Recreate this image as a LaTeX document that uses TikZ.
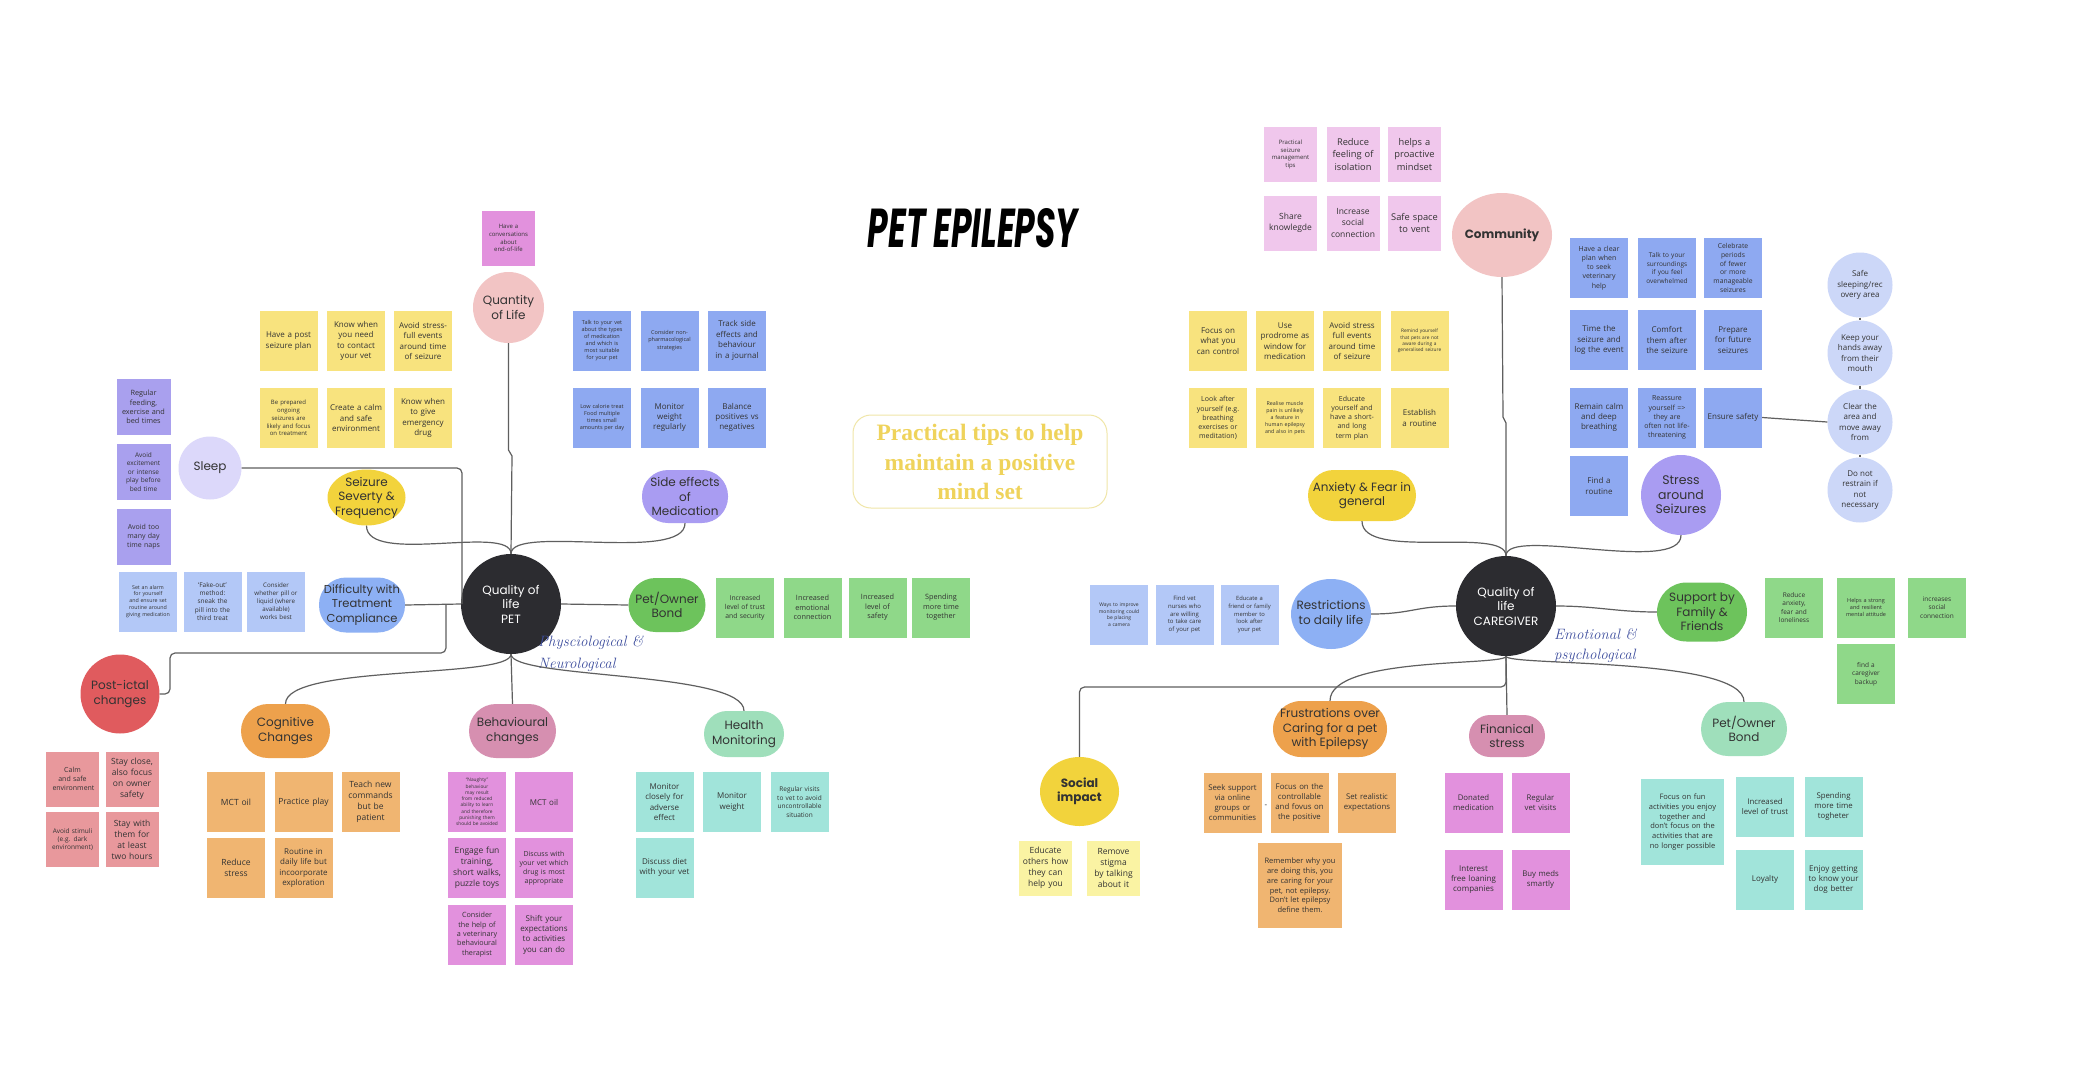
\documentclass[tikz,border=0pt]{standalone}
\usepackage{fontspec}
\usepackage{graphicx}
\usetikzlibrary{shapes.geometric}
\newfontfamily\notefont{Open Sans}
\newfontfamily\shapefont{Poppins}
\newfontfamily\tipfont{Liberation Serif}
\hyphenpenalty=10000
\definecolor{cYel}{HTML}{F8E37E}
\definecolor{cBlue}{HTML}{8EA9F1}
\definecolor{cLBlue}{HTML}{B3C8F7}
\definecolor{cPurp}{HTML}{A9A0EE}
\definecolor{cGreen}{HTML}{8FD889}
\definecolor{cPink}{HTML}{E8989C}
\definecolor{cOrange}{HTML}{F0B571}
\definecolor{cMag}{HTML}{E291DD}
\definecolor{cTeal}{HTML}{A1E4DA}
\definecolor{cComm}{HTML}{F0C7EC}
\definecolor{cLYel}{HTML}{FAF3A3}
\definecolor{kPink}{HTML}{F2C4C4}
\definecolor{kLav}{HTML}{DCD8FA}
\definecolor{kYel}{HTML}{F2D33C}
\definecolor{kPurp}{HTML}{A99CF2}
\definecolor{kBlue}{HTML}{8DB0F4}
\definecolor{kGreen}{HTML}{6DC35C}
\definecolor{kRed}{HTML}{E05B5E}
\definecolor{kOrange}{HTML}{EDA14C}
\definecolor{kMauve}{HTML}{D68FB0}
\definecolor{kMint}{HTML}{9FDFBB}
\definecolor{kLB}{HTML}{CCD7F8}
\definecolor{kDark}{HTML}{2C2C30}
\definecolor{lineC}{HTML}{5F5F5F}
\definecolor{tipC}{HTML}{EFD35B}
\definecolor{tipB}{HTML}{F0E6A8}
\definecolor{handC}{HTML}{3E4E9E}
\definecolor{txtC}{HTML}{333333}
\tikzset{
  nt/.style={rectangle, minimum width=58pt, minimum height=60pt, text width=52pt, align=center, inner sep=0pt, text=txtC},
  nts/.style={minimum width=53pt, minimum height=55pt, text width=49pt},
  ntm/.style={minimum width=54pt, minimum height=56pt, text width=49pt},
  fs/.style={font=\notefont\fontsize{#1}{\the\dimexpr #1pt*13/10\relax}\selectfont},
  cattxt/.style={align=center, inner sep=0pt, text=txtC, font=\shapefont\fontsize{12}{14.5}\selectfont},
  pill/.style={rectangle, rounded corners=#1, inner sep=0pt},
  circ/.style={circle, inner sep=0pt},
  ell/.style={ellipse, inner sep=0pt},
  conn/.style={draw=lineC, line width=1.2pt},
  hand/.style={font=\itshape\fontsize{15}{17}\selectfont, text=handC, inner sep=0pt},
  lcirc/.style={circle, fill=kLB, minimum size=65pt, inner sep=0pt, align=center, text=txtC, fs=8}
}
\newcommand\stick[6][]{\node[nt,#1,fill=#2,fs=#3] (#4) at (#5) {#6};}
\newcommand\catnode[5]{\node[#2] (#1) at (#3) {}; \node[cattxt,#4] (#1t) at (#1) {#5};}
\begin{document}
\begin{tikzpicture}[x=1pt,y=-1pt]
\fill[white] (0,0) rectangle (2093,1074);
\useasboundingbox (0,0) rectangle (2093,1074);

% title and tips
\node (title) at (973,228) {\resizebox{210pt}{39pt}{\shapefont\bfseries\itshape PET EPILEPSY}};
\node[draw=tipB, line width=1pt, rounded corners=18pt, minimum width=254pt, minimum height=93pt] (tipbox) at (980,461.5) {};
\node[font=\tipfont\bfseries\fontsize{23.5}{29.5}\selectfont, text=tipC, align=center, inner sep=0pt] (tips) at (980,462) {Practical tips to help\\maintain a positive\\mind set};

% ===== LEFT: categories
\catnode{ql}{circ, fill=kPink, minimum size=71pt}{508.5,307.5}{}{Quantity\\of Life}
\catnode{sleep}{circ, fill=kLav, minimum size=63pt}{210,468}{}{Sleep}
\catnode{sev}{ell, fill=kYel, minimum width=78pt, minimum height=56pt}{366.5,497.5}{}{Seizure\\Severty \&\\Frequency}
\catnode{side}{pill=26pt, fill=kPurp, minimum width=86pt, minimum height=53pt}{685,496.5}{}{Side effects\\of\\Medication}
\catnode{diff}{pill=27pt, fill=kBlue, minimum width=86pt, minimum height=55pt}{362,605}{font=\shapefont\fontsize{11.5}{14.5}\selectfont}{Difficulty with\\Treatment\\Compliance}
\catnode{cpet}{circ, fill=kDark, minimum size=100pt}{511,604}{text=white}{Quality of\\life\\PET}
\catnode{bondL}{pill=27pt, fill=kGreen, minimum width=77pt, minimum height=54pt}{667,605}{}{Pet/Owner\\Bond}
\catnode{postictal}{circ, fill=kRed, minimum size=79pt}{120,694}{}{Post-ictal\\changes}
\catnode{cog}{pill=27pt, fill=kOrange, minimum width=89pt, minimum height=54pt}{285.5,731}{}{Cognitive\\Changes}
\catnode{behav}{pill=27pt, fill=kMauve, minimum width=87pt, minimum height=54pt}{512.5,731}{}{Behavioural\\changes}
\catnode{health}{pill=23pt, fill=kMint, minimum width=80pt, minimum height=46pt}{744,734}{}{Health\\Monitoring}
\node[hand, anchor=west] (hwa) at (538,643) {Physciological \&};
\node[hand, anchor=west] (hwb) at (538,665) {Neurological};

% ===== LEFT: notes
\stick[nts,text width=42pt]{cMag}{6}{eol}{508.5,238}{Have a conversations about end-of-life}
\stick{cYel}{8}{ya1}{288.5,341}{Have a post seizure plan}
\stick{cYel}{8}{ya2}{356,341}{Know when you need to contact your vet}
\stick{cYel}{8}{ya3}{423,341}{Avoid stress-full events around time of seizure}
\stick[text width=46pt]{cYel}{6}{ya4}{288.5,418}{Be prepared ongoing seizures are likely and focus on treatment}
\stick{cYel}{8}{ya5}{356,418}{Create a calm and safe environment}
\stick{cYel}{8}{ya6}{423,418}{Know when to give emergency drug}
\stick[ntm,text width=44pt]{cPurp}{7.3}{sl1}{143.5,407}{Regular feeding, exercise and bed times}
\stick[ntm,text width=44pt]{cPurp}{6.5}{sl2}{143.5,472}{Avoid excitement or intense play before bed time}
\stick[ntm,text width=44pt]{cPurp}{7}{sl3}{143.5,537}{Avoid too many day time naps}
\stick[text width=47pt]{cBlue}{5.5}{se1}{602,340.5}{Talk to your vet about the types of medication and which is most suitable for your pet}
\stick{cBlue}{5.5}{se2}{669.5,340.5}{Consider non-pharmacological strategies}
\stick{cBlue}{8}{se3}{737,340.5}{Track side effects and behaviour in a journal}
\stick[text width=47pt]{cBlue}{5.5}{se4}{602,417.5}{Low calorie treat Food multiple times small amounts per day}
\stick{cBlue}{8}{se5}{669.5,417.5}{Monitor weight regularly}
\stick{cBlue}{8}{se6}{737,417.5}{Balance positives vs negatives}
\stick[text width=46pt]{cLBlue}{5.3}{df1}{148,601.5}{Set an alarm for yourself and ensure set routine around giving medication}
\stick[text width=44pt]{cLBlue}{6.5}{df2}{212.5,601.5}{‘Fake-out’ method: sneak the pill into the third treat}
\stick[text width=44pt]{cLBlue}{6.2}{df3}{276,601.5}{Consider whether pill or liquid (where available) works best}
\stick[text width=44pt]{cGreen}{6.8}{gb1}{745,607.5}{Increased level of trust and security}
\stick[text width=40pt]{cGreen}{7.3}{gb2}{812.5,607.5}{Increased emotional connection}
\stick[text width=40pt]{cGreen}{7.3}{gb3}{877.5,607.5}{Increased level of safety}
\stick[text width=40pt]{cGreen}{7.3}{gb4}{941,607.5}{Spending more time together}
\stick[nts,text width=40pt]{cPink}{7}{pi1}{72.5,779}{Calm and safe environment}
\stick[nts]{cPink}{8.5}{pi2}{132,779}{Stay close, also focus on owner safety}
\stick[nts,text width=44pt]{cPink}{6.5}{pi3}{72.5,839.5}{Avoid stimuli (e.g. dark environment)}
\stick[nts]{cPink}{8.5}{pi4}{132,839.5}{Stay with them for at least two hours}
\stick{cOrange}{8.5}{cg1}{236,802}{MCT oil}
\stick{cOrange}{8.5}{cg2}{303.5,802}{Practice play}
\stick{cOrange}{8.5}{cg3}{370.5,802}{Teach new commands but be patient}
\stick{cOrange}{8.5}{cg4}{236,868}{Reduce stress}
\stick{cOrange}{8}{cg5}{303.5,868}{Routine in daily life but incoorporate exploration}
\stick[text width=44pt]{cMag}{4.8}{bh1}{477,802}{“Naughty” behaviour may result from reduced ability to learn and therefore punishing them should be avoided}
\stick{cMag}{8}{bh2}{544,802}{MCT oil}
\stick{cMag}{8.5}{bh3}{477,868}{Engage fun training, short walks, puzzle toys}
\stick{cMag}{7}{bh4}{544,868}{Discuss with your vet which drug is most appropriate}
\stick{cMag}{7.2}{bh5}{477,934.5}{Consider the help of a veterinary behavioural therapist}
\stick{cMag}{8}{bh6}{544,934.5}{Shift your expectations to activities you can do}
\stick{cTeal}{8}{hm1}{664.5,802}{Monitor closely for adverse effect}
\stick{cTeal}{8}{hm2}{732,802}{Monitor weight}
\stick[text width=48pt]{cTeal}{6.5}{hm3}{799.5,802}{Regular visits to vet to avoid uncontrollable situation}
\stick{cTeal}{8}{hm4}{664.5,867.5}{Discuss diet with your vet}

% ===== RIGHT: categories
\catnode{community}{ell, fill=kPink, minimum width=100pt, minimum height=84pt}{1502,235}{font=\shapefont\bfseries\fontsize{12}{14.5}\selectfont}{Community}
\catnode{anx}{pill=25.5pt, fill=kYel, minimum width=108pt, minimum height=51pt}{1362,495.5}{}{Anxiety \& Fear in\\general}
\catnode{stress}{circ, fill=kPurp, minimum size=80pt}{1681,495}{font=\shapefont\fontsize{12.5}{14.5}\selectfont}{Stress\\around\\Seizures}
\catnode{restr}{ell, fill=kBlue, minimum width=80pt, minimum height=70pt}{1331,614}{}{Restrictions\\to daily life}
\catnode{ccare}{circ, fill=kDark, minimum size=100pt}{1506,606}{text=white}{Quality of\\life\\CAREGIVER}
\catnode{support}{pill=29.5pt, fill=kGreen, minimum width=90pt, minimum height=59pt}{1702,612}{}{Support by\\Family \&\\Friends}
\catnode{social}{ell, fill=kYel, minimum width=79pt, minimum height=69pt}{1079.5,791.5}{font=\shapefont\bfseries\fontsize{12}{14.5}\selectfont}{Social\\impact}
\catnode{frus}{pill=28pt, fill=kOrange, minimum width=114pt, minimum height=56pt}{1330,729}{}{Frustrations over\\Caring for a pet\\with Epilepsy}
\catnode{fin}{pill=21pt, fill=kMauve, minimum width=76pt, minimum height=42pt}{1507,736}{}{Finanical\\stress}
\catnode{bondR}{pill=27pt, fill=kMint, minimum width=86pt, minimum height=54pt}{1744,729}{}{Pet/Owner\\Bond}
\node[hand, anchor=west] (hwc) at (1554,634) {Emotional \&};
\node[hand, anchor=west] (hwd) at (1554,656) {psychological};

% ===== RIGHT: notes
\stick[nts,text width=38pt]{cComm}{6}{cm1}{1290.5,154.5}{Practical seizure management tips}
\stick[nts]{cComm}{9.3}{cm2}{1353,154.5}{Reduce feeling of isolation}
\stick[nts]{cComm}{9.3}{cm3}{1414.5,154.5}{helps a proactive mindset}
\stick[nts]{cComm}{8.5}{cm4}{1290.5,223}{Share knowlegde}
\stick[nts]{cComm}{8.5}{cm5}{1353,223}{Increase social connection}
\stick[nts]{cComm}{9.3}{cm6}{1414.5,223}{Safe space to vent}
\stick{cYel}{8}{yb1}{1218,341}{Focus on what you can control}
\stick{cYel}{8}{yb2}{1285,341}{Use prodrome as window for medication}
\stick{cYel}{8}{yb3}{1352,341}{Avoid stress full events around time of seizure}
\stick[text width=44pt]{cYel}{4.8}{yb4}{1419.5,341}{Remind yourself that pets are not aware during a generalised seizure}
\stick[text width=46pt]{cYel}{7}{yb5}{1218,418}{Look after yourself (e.g. breathing exercises or meditation)}
\stick[text width=44pt]{cYel}{5.3}{yb6}{1285,418}{Realise muscle pain is unlikely a feature in human epilepsy and also in pets}
\stick{cYel}{7}{yb7}{1352,418}{Educate yourself and have a short- and long term plan}
\stick{cYel}{8}{yb8}{1419.5,418}{Establish a routine}
\stick[text width=44pt]{cBlue}{7}{br1}{1599,268}{Have a clear plan when to seek veterinary help}
\stick[text width=44pt]{cBlue}{6.5}{br2}{1667,268}{Talk to your surroundings if you feel overwhelmed}
\stick[text width=46pt]{cBlue}{6.8}{br3}{1733,268}{Celebrate periods of fewer or more manageable seizures}
\stick{cBlue}{8}{br4}{1599,340}{Time the seizure and log the event}
\stick{cBlue}{8}{br5}{1667,340}{Comfort them after the seizure}
\stick{cBlue}{8}{br6}{1733,340}{Prepare for future seizures}
\stick{cBlue}{8}{br7}{1599,417.5}{Remain calm and deep breathing}
\stick[text width=46pt]{cBlue}{7}{br8}{1667,417.5}{Reassure yourself => they are often not life-threatening}
\stick{cBlue}{8}{br9}{1733,417.5}{Ensure safety}
\stick{cBlue}{8}{br10}{1599,486}{Find a routine}
\node[lcirc] (lc1) at (1860,285) {Safe\\sleeping/rec\\overy area};
\node[lcirc] (lc2) at (1860,353) {Keep your\\hands away\\from their\\mouth};
\node[lcirc] (lc3) at (1860,422) {Clear the\\area and\\move away\\from};
\node[lcirc] (lc4) at (1860,490) {Do not\\restrain if\\not\\necessary};
\stick[text width=42pt]{cLBlue}{5}{rs1}{1119,614.5}{Ways to improve monitoring could be placing a camera}
\stick[text width=40pt]{cLBlue}{6}{rs2}{1184.5,614.5}{Find vet nurses who are willing to take care of your pet}
\stick[text width=44pt]{cLBlue}{5.8}{rs3}{1249.5,614.5}{Educate a friend or family member to look after your pet}
\stick[text width=40pt]{cGreen}{6.5}{gs1}{1794,607.5}{Reduce anxiety, fear and loneliness}
\stick[text width=40pt]{cGreen}{5.5}{gs2}{1866,607.5}{Helps a strong and resilient mental attitude}
\stick[text width=38pt]{cGreen}{6.5}{gs3}{1937,607.5}{increases social connection}
\stick[text width=36pt]{cGreen}{6.5}{gs4}{1866,674}{find a caregiver backup}
\stick[nts]{cLYel}{8.5}{so1}{1045.5,868}{Educate others how they can help you}
\stick[nts]{cLYel}{8.5}{so2}{1113.5,868}{Remove stigma by talking about it}
\stick{cOrange}{7.8}{fr1}{1232.5,802.5}{Seek support via online groups or communities}
\stick{cOrange}{7.8}{fr2}{1299.5,802.5}{Focus on the controllable and fovus on the positive}
\stick{cOrange}{7.8}{fr3}{1367,802.5}{Set realistic expectations}
\stick[minimum width=84pt, minimum height=85pt, text width=74pt]{cOrange}{7.5}{fr4}{1300,885.5}{Remember why you are doing this, you are caring for your pet, not epilepsy. Don’t let epilepsy define them.}
\node[fs=8, text=txtC, inner sep=0pt] (dash) at (1266,806) {-};
\stick{cMag}{7.8}{fn1}{1473.5,802.5}{Donated medication}
\stick{cMag}{7.8}{fn2}{1540.5,802.5}{Regular vet visits}
\stick{cMag}{8}{fn3}{1473.5,879.5}{Interest free loaning companies}
\stick{cMag}{7.8}{fn4}{1540.5,879.5}{Buy meds smartly}
\stick[minimum width=83pt, minimum height=86pt, text width=74pt]{cTeal}{7.5}{pb1}{1682.5,822}{Focus on fun activities you enjoy together and don’t focus on the activities that are no longer possible}
\stick{cTeal}{7.8}{pb2}{1765,806.5}{Increased level of trust}
\stick{cTeal}{7.8}{pb3}{1833.5,806.5}{Spending more time togheter}
\stick{cTeal}{8}{pb4}{1765,879.5}{Loyalty}
\stick{cTeal}{8}{pb5}{1833.5,879.5}{Enjoy getting to know your dog better}

% ===== connectors
\coordinate (sleepj) at (462,604);
\coordinate (pij) at (446,604);
\coordinate (sj) at (1506,687);
\begin{scope}[conn]
\draw (ql.south) -- (508.5,450) -- (512,456) -- (cpet.north);
\draw (cpet.north) .. controls +(0,-30) and +(0,40) .. (sev.south);
\draw (cpet.north) .. controls +(0,-30) and +(0,40) .. (side.south);
\draw (diff.east) -- (cpet.west);
\draw (cpet.east) -- (bondL.west);
\draw[rounded corners=5pt] (sleep.east) -| (sleepj);
\draw[rounded corners=5pt] (postictal.east) -- (170,694) -- (170,653) -- (446,653) -- (pij);
\draw (cpet.south) .. controls +(0,25) and +(0,-40) .. (cog.north);
\draw (cpet.south) -- (behav.north);
\draw (cpet.south) .. controls +(0,25) and +(0,-40) .. (health.north);
\draw (community.south) -- (1503,417) -- (1506,423) -- (ccare.north);
\draw (ccare.north) .. controls +(0,-30) and +(0,40) .. (anx.south);
\draw (ccare.north) .. controls +(0,-30) and +(0,40) .. (stress.south);
\draw (restr.east) .. controls +(40,0) and +(-40,0) .. (ccare.west);
\draw (ccare.east) .. controls +(40,0) and +(-40,0) .. (support.west);
\draw (ccare.south) .. controls +(0,10) and +(0,-45) .. (frus.north);
\draw (ccare.south) -- (fin.north);
\draw (ccare.south) .. controls +(0,10) and +(0,-45) .. (bondR.north);
\draw[rounded corners=5pt] (ccare.south) -- (sj) -| (social.north);
\draw (br9.east) -- (lc3.west);
\draw (lc1.south) -- (lc2.north);
\draw (lc2.south) -- (lc3.north);
\draw (lc3.south) -- (lc4.north);
\end{scope}
\end{tikzpicture}
\end{document}
